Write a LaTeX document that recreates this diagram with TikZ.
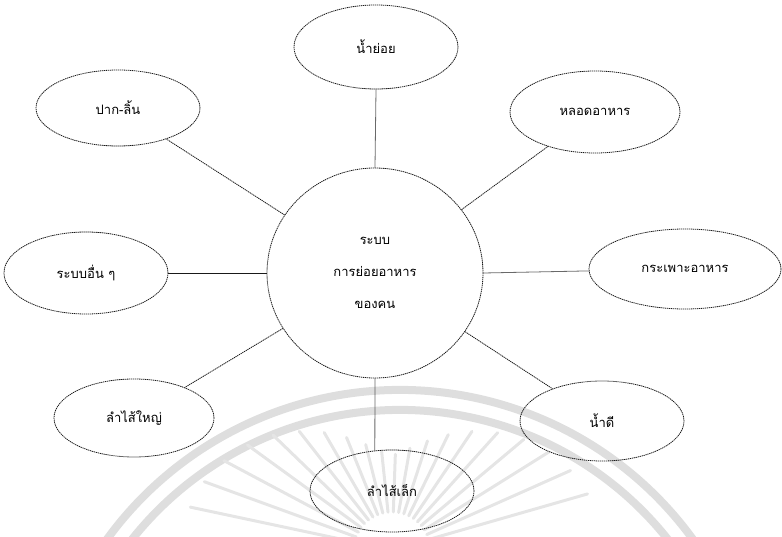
\documentclass[tikz,border=0pt]{standalone}
\usepackage{fontspec}
\newfontfamily\thaifont[Script=Thai]{Loma}
\usetikzlibrary{shapes.geometric}
\begin{document}
\begin{tikzpicture}[x=1pt,y=-1pt,
  dotline/.style={line width=0.8pt, dash pattern=on 1.3pt off 0.7pt, draw=black!90},
  topic/.style={ellipse, dotline, inner sep=0pt, font=\thaifont\fontsize{13}{15}\selectfont},
  hub/.style={ellipse, dotline, inner sep=0pt, minimum width=216pt, minimum height=210pt,
              align=center, font=\thaifont\fontsize{13}{32}\selectfont},
  link/.style={dotline},
  wmarc/.style={draw=black!13, line width=8pt},
  wmray/.style={draw=black!10, line width=3pt, line cap=round}]
\useasboundingbox (0,0) rectangle (782,537);

% faint emblem in the background
\begin{scope}
\clip (0,0) rectangle (782,537);
\draw[wmarc] (400,752) ++(-160:362) arc[start angle=-160, end angle=-20, radius=362];
\draw[wmarc] (400,752) ++(-160:342) arc[start angle=-160, end angle=-20, radius=342];
\foreach \a in {-168,-160,...,-12}{
  \pgfmathsetmacro{\len}{95+115*abs(cos(\a))^1.5}
  \draw[wmray, shift={(392,550)}] (\a:38) -- (\a:\len);
}
\end{scope}

% hub and topics
\node[hub] (hub) at (375,273) {ระบบ\\การย่อยอาหาร\\ของคน};
\node[topic, minimum width=164pt, minimum height=84pt] (juice) at (376,47) {น้ำย่อย};
\node[topic, minimum width=164pt, minimum height=76pt] (mouth) at (118,108) {ปาก-ลิ้น};
\node[topic, minimum width=170pt, minimum height=82pt] (eso) at (595,112) {หลอดอาหาร};
\node[topic, minimum width=164pt, minimum height=82pt] (other) at (86,273) {ระบบอื่น ๆ};
\node[topic, minimum width=192pt, minimum height=80pt] (stom) at (685,269) {กระเพาะอาหาร};
\node[topic, minimum width=160pt, minimum height=78pt] (large) at (134,418) {ลำไส้ใหญ่};
\node[topic, minimum width=164pt, minimum height=80pt] (bile) at (602,421) {น้ำดี};
\node[topic, minimum width=164pt, minimum height=82pt] (small) at (392,491) {ลำไส้เล็ก};

% connectors
\draw[link] (hub.north) -- (juice.south);
\draw[link] (hub) -- (mouth);
\draw[link] (hub) -- (eso);
\draw[link] (hub.west) -- (other);
\draw[link] (hub.east) -- (stom);
\draw[link] (hub) -- (large);
\draw[link] (hub) -- (bile);
\draw[link] (hub.south) -- (small.113);
\end{tikzpicture}
\end{document}
